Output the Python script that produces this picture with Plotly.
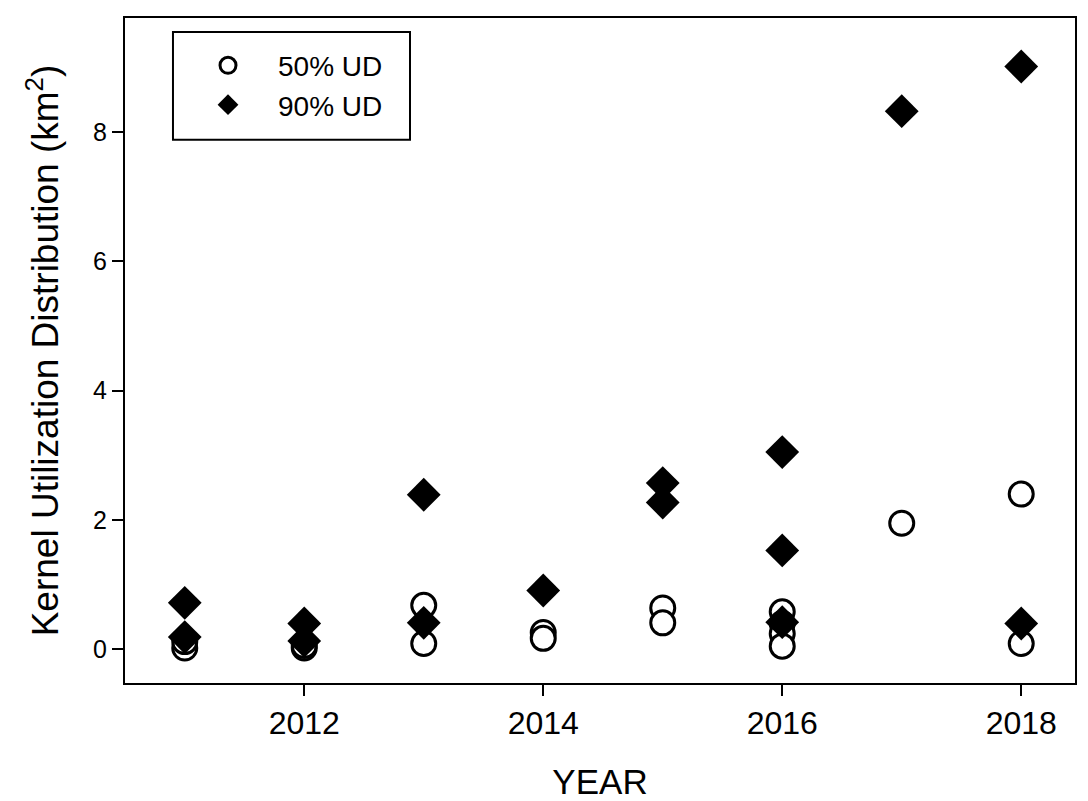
"""Kernel utilization distribution por anio (50% y 90% UD)."""

import plotly.graph_objects as go

# 50% UD
years_50 = [2011, 2011, 2012, 2012, 2013, 2013, 2014, 2014, 2015, 2015,
            2016, 2016, 2016, 2016, 2017, 2018, 2018]
ud_50 = [0.02, 0.12, 0.02, 0.06, 0.68, 0.09, 0.26, 0.17, 0.64, 0.41,
         0.58, 0.40, 0.24, 0.05, 1.95, 2.40, 0.09]

# 90% UD
years_90 = [2011, 2011, 2012, 2012, 2013, 2013, 2014, 2015, 2015,
            2016, 2016, 2016, 2017, 2018, 2018]
ud_90 = [0.72, 0.19, 0.40, 0.13, 2.39, 0.41, 0.91, 2.57, 2.27,
         3.05, 1.53, 0.42, 8.32, 9.01, 0.40]

x_ticks = [2012, 2014, 2016, 2018]
y_ticks = [0, 2, 4, 6, 8]

FONT = "Liberation Sans, Arial, sans-serif"

fig = go.Figure()

fig.add_trace(go.Scatter(
    x=years_50, y=ud_50, mode="markers", name="50% UD",
    marker=dict(symbol="circle", size=24, color="white",
                line=dict(color="black", width=3)),
))
fig.add_trace(go.Scatter(
    x=years_90, y=ud_90, mode="markers", name="90% UD",
    marker=dict(symbol="diamond", size=26, color="black",
                line=dict(color="black", width=0)),
))

axis_common = dict(
    showline=True, linecolor="black", linewidth=2, mirror=True,
    ticks="outside", ticklen=11, tickwidth=2, tickcolor="black",
    showgrid=False, zeroline=False, automargin=False,
)

# Caja de la leyenda (el recuadro del original es mas alto que el de plotly)
fig.add_shape(type="rect", xref="paper", yref="paper",
              x0=0.0505, x1=0.300, y0=0.817, y1=0.979,
              line=dict(color="black", width=2), fillcolor="rgba(0,0,0,0)",
              layer="above")

fig.update_layout(
    width=1088, height=801,
    margin=dict(l=125, r=13, t=18, b=118),
    paper_bgcolor="white", plot_bgcolor="white",
    font=dict(family=FONT, color="black"),
    showlegend=True,
    xaxis=dict(
        range=[2010.5, 2018.45], tickvals=x_ticks,
        tickfont=dict(size=32),
        title=dict(text="YEAR", font=dict(size=35), standoff=36),
        **axis_common,
    ),
    yaxis=dict(
        range=[-0.52, 9.76], tickvals=y_ticks,
        tickfont=dict(size=25),
        title=dict(text="Kernel Utilization Distribution (km<sup>2</sup>)",
                   font=dict(size=37), standoff=23),
        **axis_common,
    ),
    legend=dict(
        x=0.0558, y=0.966, xanchor="left", yanchor="top",
        borderwidth=0, bgcolor="rgba(0,0,0,0)",
        font=dict(size=28), itemsizing="trace", itemwidth=90,
    ),
)

fig.write_html("out.html", config={"displayModeBar": False},
               post_script="document.body.style.margin='0';")
